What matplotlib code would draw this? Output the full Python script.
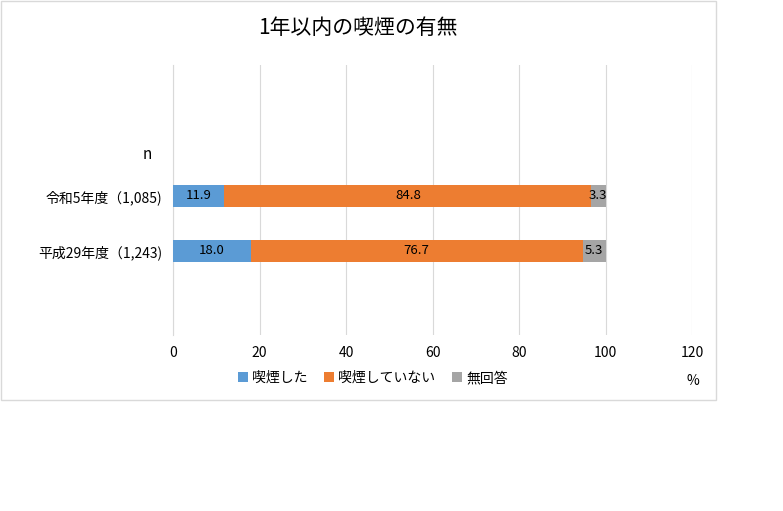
import matplotlib
matplotlib.use("Agg")
import matplotlib.pyplot as plt
from matplotlib.patches import Rectangle

plt.rcParams["font.family"] = ["Noto Sans CJK JP"]

categories = ["平成29年度（1,243)", "令和5年度（1,085)"]
smoked = [18.0, 11.9]
not_smoked = [76.7, 84.8]
no_answer = [5.3, 3.3]
series_names = ["喫煙した", "喫煙していない", "無回答"]
colors = ["#5B9BD5", "#ED7D31", "#A5A5A5"]

fig = plt.figure(figsize=(7.83, 5.11), dpi=100)
fig.patches.append(Rectangle((1/783, 1-400/511), 715/783, 399/511, transform=fig.transFigure,
                             fill=False, edgecolor="#D9D9D9", lw=1))
ax = fig.add_axes([173/783, 1-335/511, (692-173)/783, 270/511])
y = [0, 1]
left = [0, 0]
for vals, c, name in zip([smoked, not_smoked, no_answer], colors, series_names):
    bars = ax.barh(y, vals, left=left, height=0.4, color=c, label=name, zorder=3)
    for b, v, l in zip(bars, vals, left):
        ax.text(l + v/2, b.get_y() + b.get_height()/2, f"{v:.1f}", ha="center", va="center",
                fontsize=9.5, color="black", zorder=4)
    left = [a + b for a, b in zip(left, vals)]

ax.set_xlim(0, 120)
ax.set_xticks(range(0, 121, 20))
ax.set_ylim(-1.527, 3.38)
ax.set_yticks(y)
ax.set_yticklabels(categories, fontsize=10)
ax.grid(axis="x", color="#D9D9D9", lw=0.8, zorder=0)
for s in ["top", "right", "bottom"]:
    ax.spines[s].set_visible(False)
ax.spines["left"].set_color("#D9D9D9")
ax.tick_params(length=0, labelsize=10, pad=8)
ax.text(-6, 1 + 41/55, "n", ha="center", va="center", fontsize=11)
fig.text(358/783, 1-28/511, "1年以内の喫煙の有無", ha="center", va="center", fontsize=15)
fig.text(693/783, 1-381/511, "%", ha="center", va="center", fontsize=10)
fig.legend(loc="center", bbox_to_anchor=(373/783, 1-378/511), ncol=3, frameon=False,
           fontsize=10, handlelength=0.7, handleheight=0.7, columnspacing=1.2, handletextpad=0.3)
fig.savefig("out.png", dpi=100)
